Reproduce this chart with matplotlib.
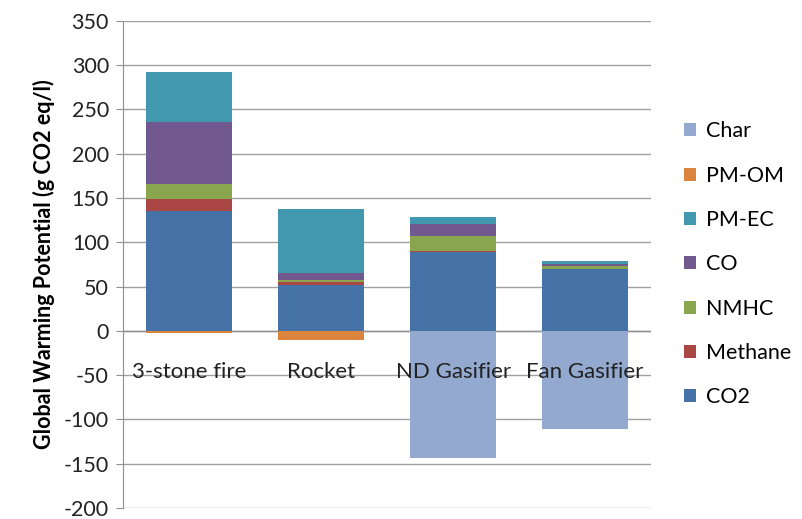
import matplotlib.pyplot as plt
import numpy as np

plt.rcParams['font.family'] = ['Lato', 'DejaVu Sans']
plt.rcParams['axes.unicode_minus'] = False

stoves = ['3-stone fire', 'Rocket', 'ND Gasifier', 'Fan Gasifier']
co2 = [135, 51.5, 89.5, 69.5]
methane = [14, 3.5, 0.5, 0.5]
nmhc = [17, 2.5, 17, 3.5]
co = [70, 8, 14, 2.5]
pm_ec = [56, 72, 7, 2.5]
pm_om = [-2, -10, 0, 0]
char = [0, 0, -143, -111]

series = [('CO2', co2, '#4572A7'), ('Methane', methane, '#AA4643'),
          ('NMHC', nmhc, '#89A54E'), ('CO', co, '#71588F'),
          ('PM-EC', pm_ec, '#4198AF'), ('PM-OM', pm_om, '#DB843D'),
          ('Char', char, '#93A9CF')]

fig = plt.figure(figsize=(8.03, 5.19), dpi=100)
ax = fig.add_axes([0.153, 0.021, 0.658, 0.939])

x = np.arange(len(stoves))
pos = np.zeros(len(stoves))
neg = np.zeros(len(stoves))
handles = []
for name, vals, col in series:
    vals = np.array(vals, dtype=float)
    bottom = np.where(vals >= 0, pos, neg)
    b = ax.bar(x, vals, 0.65, bottom=bottom, color=col, label=name, zorder=3)
    handles.append(b)
    pos += np.where(vals >= 0, vals, 0)
    neg += np.where(vals < 0, vals, 0)

ax.set_xlim(-0.5, len(stoves) - 0.5)
ax.set_ylim(-200, 350)
ax.set_yticks(range(-200, 351, 50))
ax.grid(axis='y', color='#a0a0a0', linewidth=1, zorder=0)
ax.axhline(0, color='#909090', linewidth=1, zorder=2)
ax.set_xticks([])
for s in ['top', 'right', 'bottom']:
    ax.spines[s].set_visible(False)
ax.spines['left'].set_color('#909090')
ax.tick_params(axis='y', length=5, color='#909090', labelsize=15.5, labelcolor='#222222', pad=5)

for i, s in enumerate(stoves):
    ax.text(i, -46, s, ha='center', va='center', fontsize=16, color='#222222', zorder=4)

ax.set_ylabel('Global Warming Potential (g CO2 eq/l)', fontsize=15.5, fontweight='bold', labelpad=6)

ax.legend(handles[::-1], [h.get_label() for h in handles[::-1]],
          loc='center left', bbox_to_anchor=(1.025, 0.5), frameon=False,
          fontsize=15.5, handlelength=0.55, handleheight=0.55, handletextpad=0.5,
          labelspacing=1.13)

fig.savefig('out.png', dpi=100)
